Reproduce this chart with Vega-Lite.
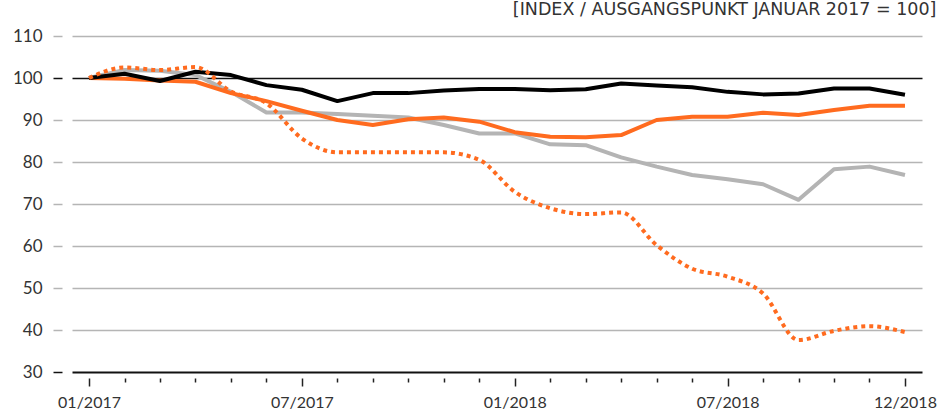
{
  "$schema": "https://vega.github.io/schema/vega-lite/v6.json",
  "width": 850,
  "height": 336,
  "autosize": {"type": "none"},
  "padding": {"left": 72, "top": 36, "right": 15, "bottom": 42},
  "background": "white",
  "title": {
    "text": "[INDEX / AUSGANGSPUNKT JANUAR 2017 = 100]",
    "anchor": "end",
    "orient": "top",
    "offset": 9,
    "font": "DejaVu Sans",
    "fontSize": 17.5,
    "fontWeight": "normal",
    "color": "#333333"
  },
  "config": {
    "view": {"stroke": null},
    "font": "Lato"
  },
  "datasets": {
    "reihen": [
      {"monat": "01/2017", "serie": "Grau", "wert": 100},
      {"monat": "02/2017", "serie": "Grau", "wert": 101.9},
      {"monat": "03/2017", "serie": "Grau", "wert": 101.7},
      {"monat": "04/2017", "serie": "Grau", "wert": 100.7},
      {"monat": "05/2017", "serie": "Grau", "wert": 96.7},
      {"monat": "06/2017", "serie": "Grau", "wert": 91.8},
      {"monat": "07/2017", "serie": "Grau", "wert": 91.8},
      {"monat": "08/2017", "serie": "Grau", "wert": 91.4},
      {"monat": "09/2017", "serie": "Grau", "wert": 91.0},
      {"monat": "10/2017", "serie": "Grau", "wert": 90.6},
      {"monat": "11/2017", "serie": "Grau", "wert": 88.8},
      {"monat": "12/2017", "serie": "Grau", "wert": 86.8},
      {"monat": "01/2018", "serie": "Grau", "wert": 86.8},
      {"monat": "02/2018", "serie": "Grau", "wert": 84.2},
      {"monat": "03/2018", "serie": "Grau", "wert": 84.0},
      {"monat": "04/2018", "serie": "Grau", "wert": 81.1},
      {"monat": "05/2018", "serie": "Grau", "wert": 78.9},
      {"monat": "06/2018", "serie": "Grau", "wert": 76.9},
      {"monat": "07/2018", "serie": "Grau", "wert": 75.9},
      {"monat": "08/2018", "serie": "Grau", "wert": 74.7},
      {"monat": "09/2018", "serie": "Grau", "wert": 71.0},
      {"monat": "10/2018", "serie": "Grau", "wert": 78.3},
      {"monat": "11/2018", "serie": "Grau", "wert": 78.9},
      {"monat": "12/2018", "serie": "Grau", "wert": 76.9},
      {"monat": "01/2017", "serie": "Orange", "wert": 100},
      {"monat": "02/2017", "serie": "Orange", "wert": 99.8},
      {"monat": "03/2017", "serie": "Orange", "wert": 99.4},
      {"monat": "04/2017", "serie": "Orange", "wert": 99.1},
      {"monat": "05/2017", "serie": "Orange", "wert": 96.4},
      {"monat": "06/2017", "serie": "Orange", "wert": 94.5},
      {"monat": "07/2017", "serie": "Orange", "wert": 92.2},
      {"monat": "08/2017", "serie": "Orange", "wert": 90.0},
      {"monat": "09/2017", "serie": "Orange", "wert": 88.8},
      {"monat": "10/2017", "serie": "Orange", "wert": 90.2},
      {"monat": "11/2017", "serie": "Orange", "wert": 90.6},
      {"monat": "12/2017", "serie": "Orange", "wert": 89.6},
      {"monat": "01/2018", "serie": "Orange", "wert": 87.1},
      {"monat": "02/2018", "serie": "Orange", "wert": 86.0},
      {"monat": "03/2018", "serie": "Orange", "wert": 85.9},
      {"monat": "04/2018", "serie": "Orange", "wert": 86.4},
      {"monat": "05/2018", "serie": "Orange", "wert": 90.0},
      {"monat": "06/2018", "serie": "Orange", "wert": 90.8},
      {"monat": "07/2018", "serie": "Orange", "wert": 90.8},
      {"monat": "08/2018", "serie": "Orange", "wert": 91.7},
      {"monat": "09/2018", "serie": "Orange", "wert": 91.2},
      {"monat": "10/2018", "serie": "Orange", "wert": 92.4},
      {"monat": "11/2018", "serie": "Orange", "wert": 93.4},
      {"monat": "12/2018", "serie": "Orange", "wert": 93.4},
      {"monat": "01/2017", "serie": "Schwarz", "wert": 100},
      {"monat": "02/2017", "serie": "Schwarz", "wert": 101.0},
      {"monat": "03/2017", "serie": "Schwarz", "wert": 99.3},
      {"monat": "04/2017", "serie": "Schwarz", "wert": 101.5},
      {"monat": "05/2017", "serie": "Schwarz", "wert": 100.7},
      {"monat": "06/2017", "serie": "Schwarz", "wert": 98.3},
      {"monat": "07/2017", "serie": "Schwarz", "wert": 97.2},
      {"monat": "08/2017", "serie": "Schwarz", "wert": 94.5},
      {"monat": "09/2017", "serie": "Schwarz", "wert": 96.4},
      {"monat": "10/2017", "serie": "Schwarz", "wert": 96.4},
      {"monat": "11/2017", "serie": "Schwarz", "wert": 97.0},
      {"monat": "12/2017", "serie": "Schwarz", "wert": 97.4},
      {"monat": "01/2018", "serie": "Schwarz", "wert": 97.4},
      {"monat": "02/2018", "serie": "Schwarz", "wert": 97.1},
      {"monat": "03/2018", "serie": "Schwarz", "wert": 97.3},
      {"monat": "04/2018", "serie": "Schwarz", "wert": 98.7},
      {"monat": "05/2018", "serie": "Schwarz", "wert": 98.2},
      {"monat": "06/2018", "serie": "Schwarz", "wert": 97.8},
      {"monat": "07/2018", "serie": "Schwarz", "wert": 96.7},
      {"monat": "08/2018", "serie": "Schwarz", "wert": 96.1},
      {"monat": "09/2018", "serie": "Schwarz", "wert": 96.3},
      {"monat": "10/2018", "serie": "Schwarz", "wert": 97.5},
      {"monat": "11/2018", "serie": "Schwarz", "wert": 97.5},
      {"monat": "12/2018", "serie": "Schwarz", "wert": 96.0}
    ],
    "punktiert": [
      {"monat": "01/2017", "serie": "Orange punktiert", "wert": 100},
      {"monat": "02/2017", "serie": "Orange punktiert", "wert": 102.5},
      {"monat": "03/2017", "serie": "Orange punktiert", "wert": 101.9},
      {"monat": "04/2017", "serie": "Orange punktiert", "wert": 102.6},
      {"monat": "05/2017", "serie": "Orange punktiert", "wert": 96.8},
      {"monat": "06/2017", "serie": "Orange punktiert", "wert": 94.0},
      {"monat": "07/2017", "serie": "Orange punktiert", "wert": 85.6},
      {"monat": "08/2017", "serie": "Orange punktiert", "wert": 82.3},
      {"monat": "09/2017", "serie": "Orange punktiert", "wert": 82.3},
      {"monat": "10/2017", "serie": "Orange punktiert", "wert": 82.3},
      {"monat": "11/2017", "serie": "Orange punktiert", "wert": 82.3},
      {"monat": "12/2017", "serie": "Orange punktiert", "wert": 80.5},
      {"monat": "01/2018", "serie": "Orange punktiert", "wert": 72.9},
      {"monat": "02/2018", "serie": "Orange punktiert", "wert": 69.0},
      {"monat": "03/2018", "serie": "Orange punktiert", "wert": 67.6},
      {"monat": "04/2018", "serie": "Orange punktiert", "wert": 68.0},
      {"monat": "05/2018", "serie": "Orange punktiert", "wert": 60.2},
      {"monat": "06/2018", "serie": "Orange punktiert", "wert": 54.6},
      {"monat": "07/2018", "serie": "Orange punktiert", "wert": 52.7},
      {"monat": "08/2018", "serie": "Orange punktiert", "wert": 48.7},
      {"monat": "09/2018", "serie": "Orange punktiert", "wert": 37.6},
      {"monat": "10/2018", "serie": "Orange punktiert", "wert": 39.8},
      {"monat": "11/2018", "serie": "Orange punktiert", "wert": 40.9},
      {"monat": "12/2018", "serie": "Orange punktiert", "wert": 39.5}
    ]
  },
  "encoding": {
    "x": {
      "field": "monat",
      "type": "ordinal",
      "sort": null,
      "scale": {
        "type": "point",
        "padding": 0.48,
        "domain": ["01/2017","02/2017","03/2017","04/2017","05/2017","06/2017","07/2017","08/2017","09/2017","10/2017","11/2017","12/2017","01/2018","02/2018","03/2018","04/2018","05/2018","06/2018","07/2018","08/2018","09/2018","10/2018","11/2018","12/2018"]
      },
      "axis": {
        "title": null,
        "domain": false,
        "grid": false,
        "offset": 6,
        "labelAngle": 0,
        "labelFont": "Lato",
        "labelFontSize": 16,
        "labelColor": "#333333",
        "labelPadding": 8,
        "labelExpr": "indexof(['01/2017','07/2017','01/2018','07/2018','12/2018'], datum.value) >= 0 ? datum.value : ''",
        "tickColor": "#222222",
        "tickWidth": 1.5,
        "tickSize": {"condition": {"test": "indexof(['01/2017','07/2017','01/2018','07/2018','12/2018'], datum.value) >= 0", "value": 8}, "value": 4}
      }
    },
    "y": {
      "field": "wert",
      "type": "quantitative",
      "scale": {"domain": [30, 110], "nice": false, "zero": false},
      "axis": {
        "title": null,
        "values": [30, 40, 50, 60, 70, 80, 90, 100, 110],
        "domain": false,
        "offset": 10,
        "tickSize": 9,
        "tickWidth": 1.5,
        "tickColor": {"condition": {"test": "datum.value === 30 || datum.value === 100", "value": "#111111"}, "value": "#b5b5b5"},
        "grid": true,
        "gridColor": {"condition": {"test": "datum.value === 30 || datum.value === 100", "value": "#111111"}, "value": "#b5b5b5"},
        "gridWidth": {"condition": {"test": "datum.value === 30", "value": 1.8}, "value": 1.4},
        "labelFont": "Lato",
        "labelFontSize": 17,
        "labelColor": "#333333",
        "labelPadding": 11
      }
    }
  },
  "layer": [
    {
      "data": {"name": "reihen"},
      "mark": {"type": "line", "strokeWidth": 4, "strokeJoin": "round"},
      "encoding": {
        "color": {
          "field": "serie",
          "type": "nominal",
          "scale": {"domain": ["Grau", "Orange", "Schwarz", "Orange punktiert"], "range": ["#b4b4b4", "#ff6b1f", "#000000", "#ff6b1f"]},
          "legend": null
        }
      }
    },
    {
      "data": {"name": "punktiert"},
      "mark": {"type": "line", "strokeWidth": 4, "strokeDash": [4, 4], "interpolate": "monotone"},
      "encoding": {
        "color": {"field": "serie", "type": "nominal", "legend": null}
      }
    }
  ]
}
